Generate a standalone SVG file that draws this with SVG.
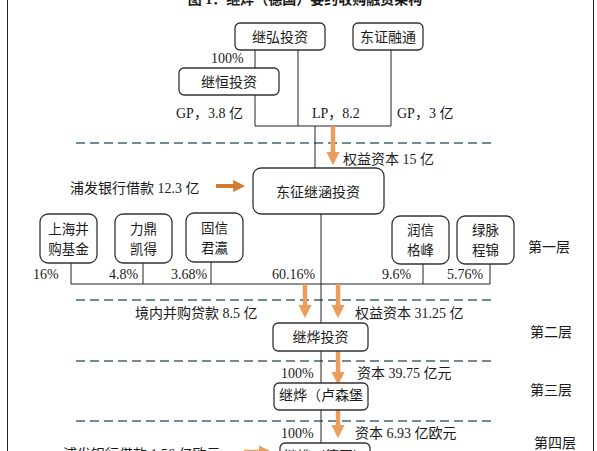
<svg xmlns="http://www.w3.org/2000/svg" width="597" height="451" viewBox="0 0 597 451">
<style>
  text { font-family: "Liberation Serif", "Noto Sans CJK SC", serif; font-size: 14px; fill: #1a1a1a; }
  .cn { font-family: "Noto Sans CJK SC", sans-serif; }
  .two { font-size: 13.5px; }
  .box { fill: #ffffff; stroke: #333333; stroke-width: 1.3; }
  .line { fill: none; stroke: #222222; stroke-width: 1; }
  .dash { fill: none; stroke: #6f8a99; stroke-width: 2; stroke-dasharray: 9 5; }
  .arrow { fill: none; stroke: #eb9d5c; stroke-width: 4.5; }
  .arrowh { fill: none; stroke: #d27a32; stroke-width: 4; }
  .mid { text-anchor: middle; }
</style>
<defs>
  <marker id="ah" markerWidth="3" markerHeight="3" refX="1.2" refY="1.5" orient="auto" markerUnits="strokeWidth">
    <path d="M0,0 L3,1.5 L0,3 z" fill="#eb9d5c"/>
  </marker>
  <marker id="ah2" markerWidth="3" markerHeight="3" refX="1.2" refY="1.5" orient="auto" markerUnits="strokeWidth">
    <path d="M0,0 L3,1.5 L0,3 z" fill="#d27a32"/>
  </marker>
</defs>
<rect x="0" y="0" width="597" height="451" fill="#ffffff"/>
<line x1="7.5" y1="0" x2="7.5" y2="451" stroke="#222" stroke-width="1"/>
<line x1="593.5" y1="0" x2="593.5" y2="451" stroke="#222" stroke-width="1"/>

<text x="305" y="4" class="mid" font-weight="bold">图 1：继烨（德国）要约收购融资架构</text>

<g id="layers">
  <line class="dash" x1="76" y1="143" x2="495" y2="143"/>
  <line class="dash" x1="76" y1="300" x2="495" y2="300"/>
  <line class="dash" x1="76" y1="361" x2="495" y2="361"/>
  <line class="dash" x1="76" y1="421" x2="495" y2="421"/>
  <text x="549" y="252" class="mid cn">第一层</text>
  <text x="551" y="337" class="mid cn">第二层</text>
  <text x="551" y="395" class="mid cn">第三层</text>
  <text x="555" y="448" class="mid cn">第四层</text>
</g>

<g id="connectors">
  <line class="line" x1="255" y1="50" x2="255" y2="68"/>
  <line class="line" x1="298" y1="50" x2="298" y2="126"/>
  <line class="line" x1="255" y1="95" x2="255" y2="126"/>
  <line class="line" x1="391" y1="50" x2="391" y2="126"/>
  <line class="line" x1="255" y1="126" x2="391" y2="126"/>
  <line class="line" x1="315" y1="126" x2="315" y2="168"/>
  <line class="line" x1="71" y1="263" x2="71" y2="284"/>
  <line class="line" x1="143" y1="263" x2="143" y2="284"/>
  <line class="line" x1="211" y1="262" x2="211" y2="284"/>
  <line class="line" x1="423" y1="264" x2="423" y2="284"/>
  <line class="line" x1="490" y1="264" x2="490" y2="284"/>
  <line class="line" x1="71" y1="284" x2="490" y2="284"/>
  <line class="line" x1="321" y1="214" x2="321" y2="323"/>
  <line class="line" x1="321" y1="351" x2="321" y2="383"/>
  <line class="line" x1="321" y1="410" x2="321" y2="443"/>

  <line class="arrow" x1="333" y1="126" x2="333" y2="157" marker-end="url(#ah)"/>
  <line class="arrowh" x1="216" y1="186" x2="238" y2="186" marker-end="url(#ah2)"/>
  <line class="arrow" x1="305" y1="284" x2="305" y2="310" marker-end="url(#ah)"/>
  <line class="arrow" x1="338" y1="284" x2="338" y2="310" marker-end="url(#ah)"/>
  <line class="arrow" x1="338" y1="351" x2="338" y2="377" marker-end="url(#ah)"/>
  <line class="arrow" x1="338" y1="410" x2="338" y2="430" marker-end="url(#ah)"/>
  <line class="arrow" x1="244" y1="452" x2="264" y2="452" stroke="#f3c28f" marker-end="url(#ah)"/>

  <text x="211" y="63">100%</text>
  <text x="176" y="118">GP，3.8 亿</text>
  <text x="312" y="118">LP，8.2</text>
  <text x="397" y="118">GP，3 亿</text>
  <text x="343" y="164">权益资本 15 亿</text>
  <text x="70" y="193" font-size="15">浦发银行借款 12.3 亿</text>
  <text x="33" y="279">16%</text>
  <text x="109" y="279">4.8%</text>
  <text x="171" y="279">3.68%</text>
  <text x="272" y="279">60.16%</text>
  <text x="382" y="279">9.6%</text>
  <text x="447" y="279">5.76%</text>
  <text x="135" y="318">境内并购贷款 8.5 亿</text>
  <text x="355" y="318">权益资本 31.25 亿</text>
  <text x="281" y="378">100%</text>
  <text x="357" y="378">资本 39.75 亿元</text>
  <text x="281" y="438">100%</text>
  <text x="355" y="438">资本 6.93 亿欧元</text>
  <text x="63" y="459">浦发银行借款 1.56 亿欧元</text>
</g>

<g id="n-jihong">
  <rect class="box" x="235" y="23" width="90" height="27" rx="5"/>
  <text x="280" y="42" class="mid cn">继弘投资</text>
</g>
<g id="n-dongzheng">
  <rect class="box" x="353" y="23" width="70" height="27" rx="5"/>
  <text x="388" y="42" class="mid cn">东证融通</text>
</g>
<g id="n-jiheng">
  <rect class="box" x="179" y="68" width="100" height="27" rx="5"/>
  <text x="229" y="87" class="mid cn">继恒投资</text>
</g>
<g id="n-dongzhengjihan">
  <rect class="box" x="253" y="168" width="131" height="46" rx="8"/>
  <text x="318" y="197" class="mid cn">东征继涵投资</text>
</g>
<g id="n-shanghai">
  <rect class="box" x="40" y="214" width="57" height="49" rx="8"/>
  <text x="68.5" y="234" class="mid cn two">上海并</text>
  <text x="68.5" y="253.5" class="mid cn two">购基金</text>
</g>
<g id="n-liding">
  <rect class="box" x="115" y="214" width="57" height="49" rx="8"/>
  <text x="143.5" y="234" class="mid cn two">力鼎</text>
  <text x="143.5" y="253.5" class="mid cn two">凯得</text>
</g>
<g id="n-guxin">
  <rect class="box" x="186" y="213" width="57" height="49" rx="8"/>
  <text x="214.5" y="233" class="mid cn two">固信</text>
  <text x="214.5" y="252.5" class="mid cn two">君瀛</text>
</g>
<g id="n-runxin">
  <rect class="box" x="392" y="216" width="57" height="48" rx="8"/>
  <text x="420.5" y="235" class="mid cn two">润信</text>
  <text x="420.5" y="254.5" class="mid cn two">格峰</text>
</g>
<g id="n-lvmai">
  <rect class="box" x="457" y="216" width="57" height="48" rx="8"/>
  <text x="485.5" y="235" class="mid cn two">绿脉</text>
  <text x="485.5" y="254.5" class="mid cn two">程锦</text>
</g>
<g id="n-jiyetouzi">
  <rect class="box" x="273" y="323" width="95" height="28" rx="5"/>
  <text x="320.5" y="342" class="mid cn">继烨投资</text>
</g>
<g id="n-luxembourg">
  <rect class="box" x="274" y="383" width="94" height="27" rx="5"/>
  <text x="321" y="400" class="mid cn">继烨（卢森堡</text>
</g>
<g id="n-germany">
  <rect class="box" x="280" y="443" width="90" height="30" rx="5"/>
  <text x="325" y="461" class="mid cn">继烨（德国）</text>
</g>
</svg>
